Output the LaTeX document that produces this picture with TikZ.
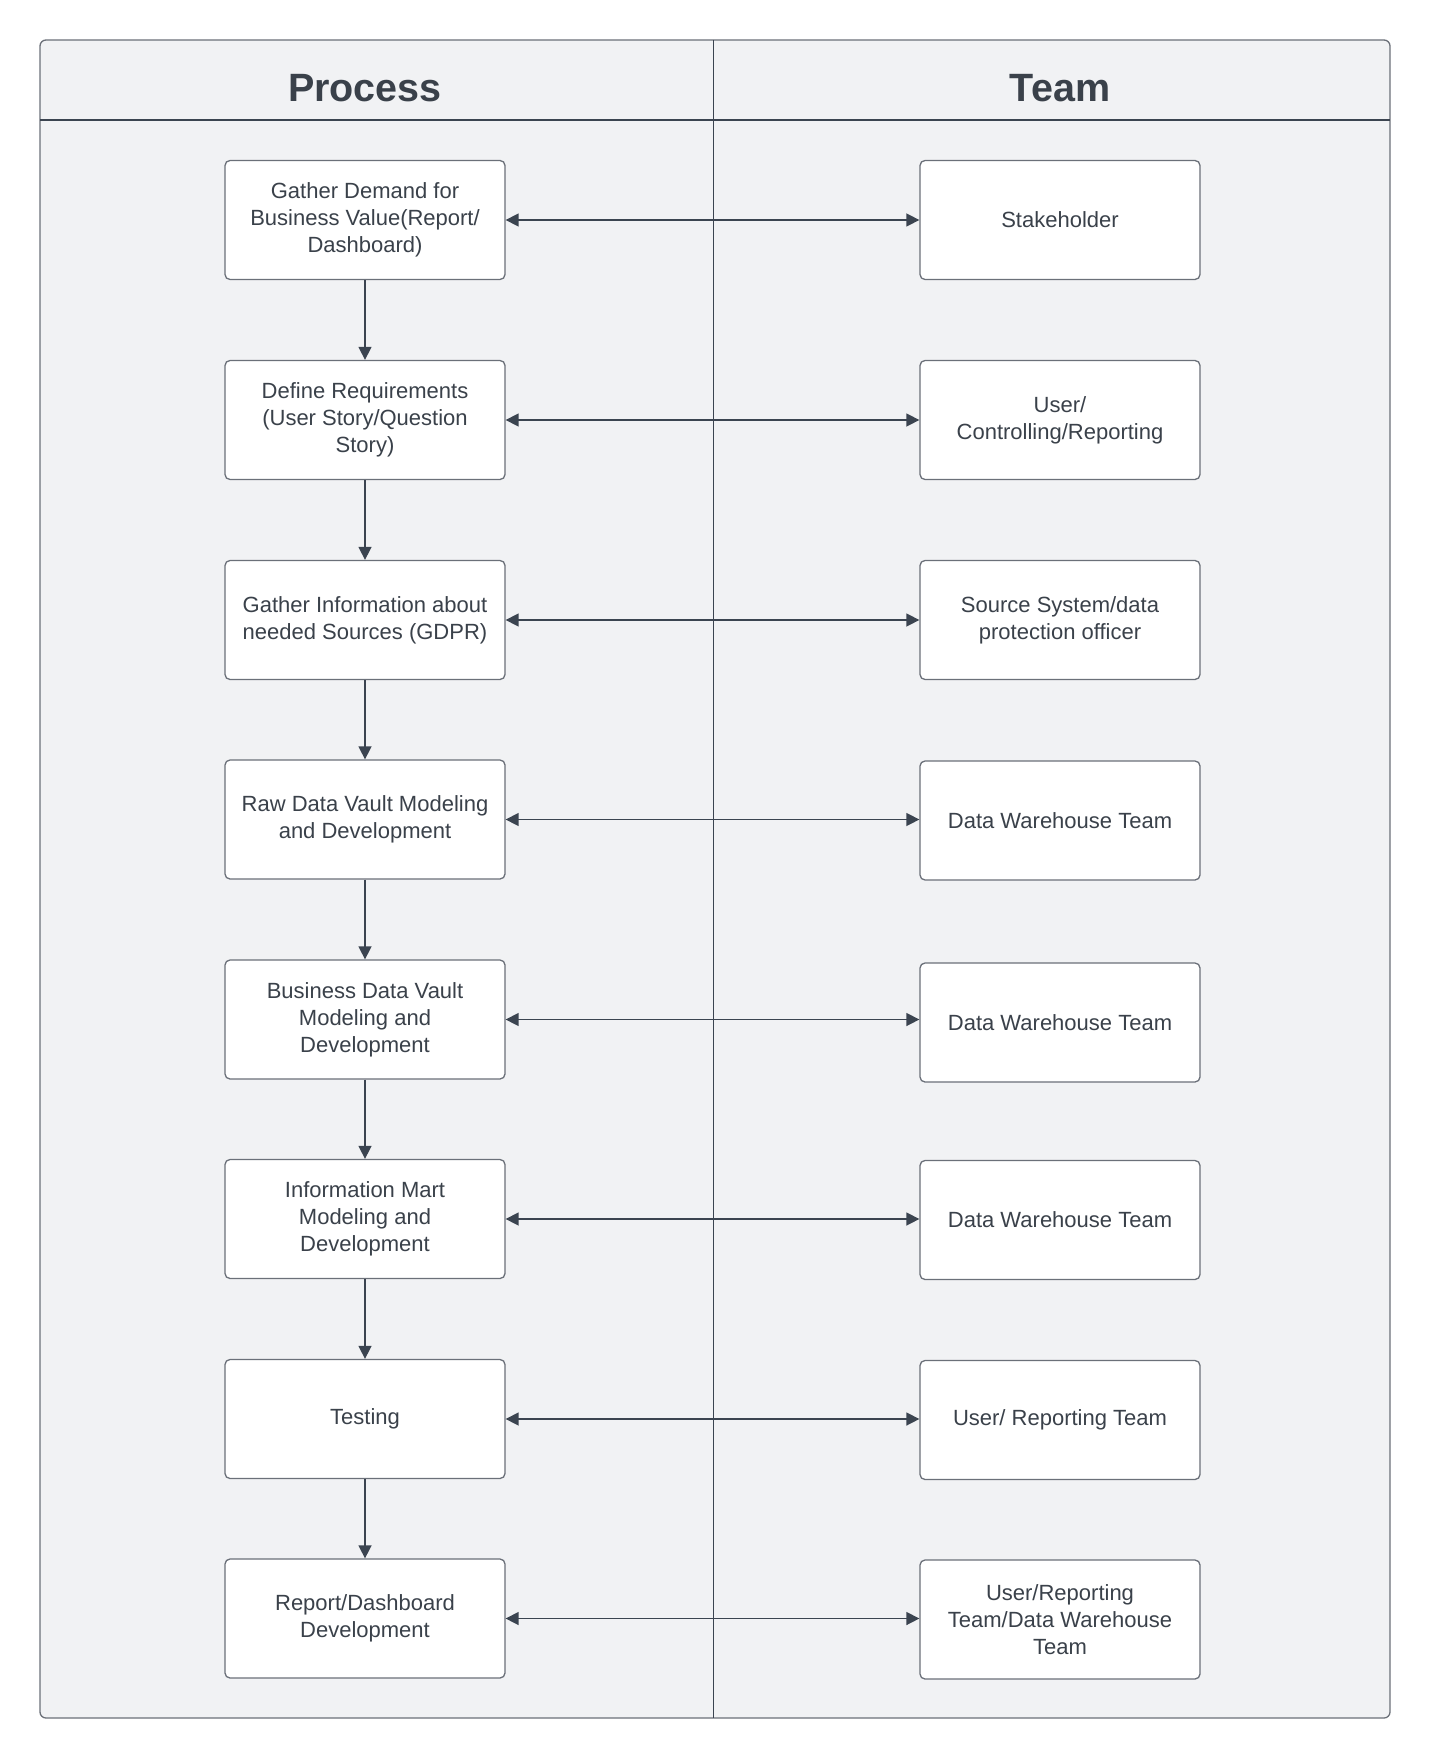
\documentclass[tikz,border=0pt]{standalone}
\usepackage{fontspec}
\setmainfont{Liberation Sans}
\usetikzlibrary{arrows.meta}
\definecolor{bgfill}{HTML}{F1F2F4}
\definecolor{txt}{HTML}{3A414A}
\definecolor{linec}{HTML}{3B4450}
\definecolor{boxline}{HTML}{6B7079}
\tikzset{
  procbox/.style={draw=boxline, line width=1.3pt, fill=white, rounded corners=5pt,
    minimum width=280pt, minimum height=119pt, align=center, text=txt,
    font=\fontsize{22pt}{27pt}\selectfont, inner sep=0pt},
  hdr/.style={text=txt, font=\fontsize{39.5pt}{44pt}\selectfont\bfseries},
  flow/.style={draw=linec, line width=1.5pt, -{Triangle[length=13pt,width=13pt]}},
  both/.style={draw=linec, line width=1.5pt, {Triangle[length=13pt,width=13pt]}-{Triangle[length=13pt,width=13pt]}}
}
\begin{document}
\begin{tikzpicture}[x=1pt,y=-1pt]
\useasboundingbox (0,0) rectangle (1430,1760);
% frame
\draw[draw=boxline, line width=1.3pt, fill=bgfill, rounded corners=6pt] (40,40) rectangle (1390,1718);
\draw[draw=linec, line width=1.3pt] (40,120) -- (1390,120);
\draw[draw=linec, line width=0.9pt] (713,40) -- (713,1718);
\node[hdr] (hp) at (365,88) {Process};
\node[hdr] (ht) at (1060,88) {Team};
% process boxes
\node[procbox] (L1) at (365,220) {Gather Demand for\\Business Value(Report/\\Dashboard)};
\node[procbox] (L2) at (365,420) {Define Requirements\\(User Story/Question\\Story)};
\node[procbox] (L3) at (365,620) {Gather Information about\\needed Sources (GDPR)};
\node[procbox] (L4) at (365,819.5) {Raw Data Vault Modeling\\and Development};
\node[procbox] (L5) at (365,1019.5) {Business Data Vault\\Modeling and\\Development};
\node[procbox] (L6) at (365,1219) {Information Mart\\Modeling and\\Development};
\node[procbox] (L7) at (365,1419) {Testing};
\node[procbox] (L8) at (365,1618.5) {Report/Dashboard\\Development};
% team boxes
\node[procbox] (R1) at (1060,220) {Stakeholder};
\node[procbox] (R2) at (1060,420) {User/\\Controlling/Reporting};
\node[procbox] (R3) at (1060,620) {Source System/data\\protection officer};
\node[procbox] (R4) at (1060,820.5) {Data Warehouse Team};
\node[procbox] (R5) at (1060,1022.5) {Data Warehouse Team};
\node[procbox] (R6) at (1060,1220) {Data Warehouse Team};
\node[procbox] (R7) at (1060,1420) {User/ Reporting Team};
\node[procbox] (R8) at (1060,1619.5) {User/Reporting\\Team/Data Warehouse\\Team};
% vertical flow
\foreach \a/\b in {L1/L2,L2/L3,L3/L4,L4/L5,L5/L6,L6/L7,L7/L8}
  \draw[flow] (\a.south) -- (\b.north);
% horizontal links
\foreach \i in {1,...,8}
  \draw[both] (L\i.east) -- (L\i.east -| R\i.west);
\end{tikzpicture}
\end{document}
